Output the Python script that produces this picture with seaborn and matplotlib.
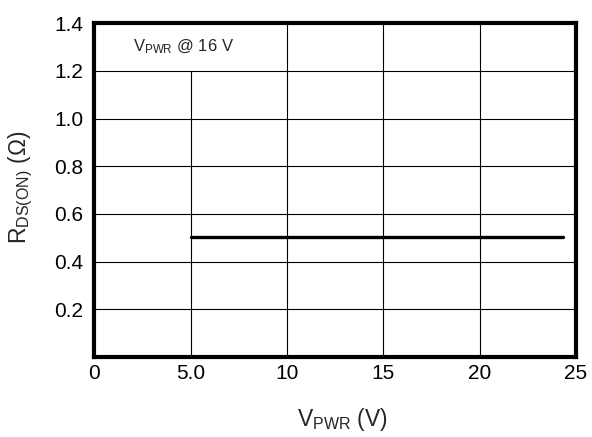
import matplotlib
matplotlib.use("Agg")
import matplotlib.pyplot as plt
import seaborn as sns
import pandas as pd

v_pwr = [5.0, 24.3]
rds_on = [0.505, 0.505]
x_ticks = [0, 5, 10, 15, 20, 25]
x_tick_labels = ["0", "5.0", "10", "15", "20", "25"]
y_ticks = [0.2, 0.4, 0.6, 0.8, 1.0, 1.2, 1.4]
y_tick_labels = ["0.2", "0.4", "0.6", "0.8", "1.0", "1.2", "1.4"]

sns.set_style("white")
plt.rcParams['font.family'] = ['Liberation Sans', 'DejaVu Sans']
plt.rcParams['mathtext.fontset'] = 'custom'
plt.rcParams['mathtext.rm'] = 'Liberation Sans'
plt.rcParams['mathtext.it'] = 'Liberation Sans'

fig = plt.figure(figsize=(5.92, 4.37), dpi=100)
ax = fig.add_axes([0.159, 0.183, 0.814, 0.764])

df = pd.DataFrame({"x": v_pwr, "y": rds_on})
sns.lineplot(data=df, x="x", y="y", ax=ax, color="black", linewidth=2.4, zorder=5)

ax.set_xlim(0, 25)
ax.set_ylim(0, 1.4)
ax.set_xticks(x_ticks)
ax.set_xticklabels(x_tick_labels)
ax.set_yticks(y_ticks)
ax.set_yticklabels(y_tick_labels)
ax.tick_params(axis="both", length=0, labelsize=15, colors="black")
ax.tick_params(axis="y", pad=8)
ax.tick_params(axis="x", pad=5)

# grid lines
for xv in [10, 15, 20]:
    ax.axvline(xv, color="black", linewidth=0.8, zorder=1)
ax.axvline(5, ymin=0, ymax=1.2 / 1.4, color="black", linewidth=0.8, zorder=1)
for yv in [0.2, 0.4, 0.6, 0.8, 1.0, 1.2]:
    ax.axhline(yv, color="black", linewidth=0.8, zorder=1)

for s in ax.spines.values():
    s.set_visible(True)
    s.set_color("black")
    s.set_linewidth(3.0)

ax.text(2.0, 1.30, r"V$_{\mathrm{PWR}}$ @ 16 V", fontsize=12, ha="left", va="center")

ax.set_xlabel(r"V$_{\mathrm{PWR}}$ (V)", fontsize=16.5, va="center")
ax.xaxis.set_label_coords(0.515, -0.187)
ax.set_ylabel(r"R$_{\mathrm{DS(ON)}}$ ($\Omega$)", fontsize=16.5, va="center")
ax.yaxis.set_label_coords(-0.153, 0.51)

fig.savefig("out.png", dpi=100)
